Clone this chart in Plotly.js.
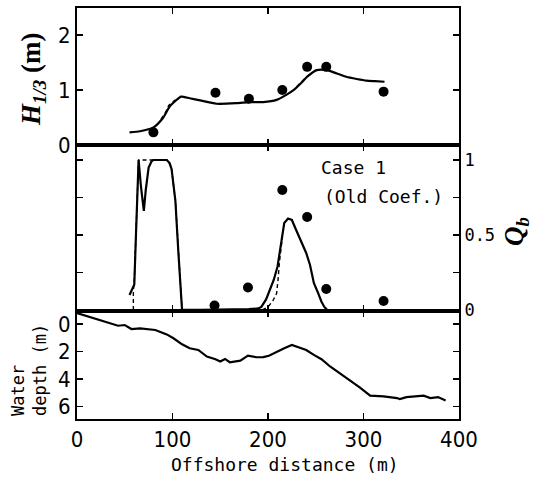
<!DOCTYPE html>
<html>
<head>
<meta charset="utf-8">
<script src="https://cdn.plot.ly/plotly-3.0.1.min.js"></script>
<style>html,body{margin:0;padding:0;background:#fff;}#chart{width:534px;height:477px;}</style>
</head>
<body>
<div id="chart"></div>
<script>
// ---- Top panel: significant wave height H1/3 (m)
var hX = [55, 66, 80, 90, 97, 103, 109, 118, 129, 146, 167, 181, 195, 209, 220, 227, 235, 241, 251, 262, 272, 282, 293, 303, 312, 322];
var hCalc = [0.23, 0.25, 0.32, 0.49, 0.70, 0.80, 0.88, 0.85, 0.81, 0.75, 0.76, 0.78, 0.78, 0.82, 0.92, 1.00, 1.13, 1.24, 1.36, 1.36, 1.30, 1.24, 1.20, 1.17, 1.16, 1.15];
var hDashX = [88, 93, 96, 99, 103, null, 230, 236, 241, 246];
var hDash = [0.47, 0.60, 0.72, 0.77, 0.82, null, 1.06, 1.17, 1.25, 1.31];
var hObsX = [80, 145, 180, 215, 241, 261, 321];
var hObs = [0.23, 0.95, 0.84, 1.00, 1.42, 1.42, 0.97];

// ---- Middle panel: fraction of breaking waves Qb
var qX = [55, 58, 60, 62, 64.5, 67, 70, 72, 75, 78, 80, 94, 97, 99, 101, 103, 106, 108, 110, 130, 160, 180, 190, 193, 198, 202, 206, 210, 214, 217, 221, 225, 229, 234, 240, 244, 248, 252, 256, 259, 262];
var qCalc = [0.10, 0.14, 0.17, 0.55, 1.00, 0.82, 0.66, 0.80, 0.95, 0.99, 1.00, 1.00, 0.98, 0.94, 0.85, 0.73, 0.40, 0.18, 0.00, 0.00, 0.00, 0.005, 0.01, 0.02, 0.07, 0.13, 0.20, 0.29, 0.45, 0.58, 0.61, 0.60, 0.54, 0.47, 0.38, 0.30, 0.18, 0.12, 0.055, 0.02, 0.00];
var qDashX = [59, 59, 60, 62, 64.5, 95, 99, 103, 106, 108, 110, null, 194, 200, 205, 209, 210.5, 212, 215];
var qDash = [0.00, 0.12, 0.20, 0.56, 1.00, 1.00, 0.94, 0.73, 0.40, 0.18, 0.00, null, 0.00, 0.02, 0.06, 0.11, 0.20, 0.32, 0.48];
var qObsX = [144, 179, 215, 241, 261, 321];
var qObs = [0.03, 0.15, 0.80, 0.62, 0.14, 0.06];

// ---- Bottom panel: water depth (m)
var dX = [0, 15, 33, 43, 50, 57, 66, 82, 94, 101, 110, 118, 127, 136, 145, 150, 155, 160, 171, 179, 188, 195, 201, 209, 217, 225, 233, 240, 248, 256, 265, 275, 286, 296, 307, 321, 335, 338, 345, 363, 370, 378, 386];
var depth = [-0.80, -0.46, -0.05, 0.12, 0.07, 0.36, 0.31, 0.43, 0.75, 1.03, 1.47, 1.76, 1.88, 2.36, 2.55, 2.72, 2.53, 2.77, 2.65, 2.29, 2.41, 2.40, 2.30, 2.00, 1.75, 1.52, 1.70, 1.88, 2.24, 2.55, 3.08, 3.56, 4.09, 4.60, 5.20, 5.25, 5.37, 5.44, 5.30, 5.20, 5.37, 5.30, 5.54];

var xTicks = [0, 100, 200, 300, 400];
var hTicks = [0, 1, 2];
var qTicks = [0, 0.25, 0.5, 0.75, 1];
var qTickText = ['0', '', '0.5', '', '1'];
var dTicks = [0, 2, 4, 6];

var tickFont = {family: 'DejaVu Sans Condensed, DejaVu Sans, sans-serif', size: 22, color: '#000'};
var monoFont = {family: 'DejaVu Sans Mono, monospace', size: 18, color: '#000'};

var line = {color: '#000', width: 2.2};
var dash = {color: '#000', width: 1.4, dash: '4px,3px'};
var mk = {color: '#000', size: 10};

var traces = [
  {x: hX, y: hCalc, xaxis: 'x3', yaxis: 'y', mode: 'lines', line: {color: '#000', width: 2.2, shape: 'spline', smoothing: 0.6}},
  {x: hDashX, y: hDash, xaxis: 'x3', yaxis: 'y', mode: 'lines', line: dash, connectgaps: false},
  {x: hObsX, y: hObs, xaxis: 'x3', yaxis: 'y', mode: 'markers', marker: mk},
  {x: qX, y: qCalc, xaxis: 'x2', yaxis: 'y2', mode: 'lines', line: line},
  {x: qDashX, y: qDash, xaxis: 'x2', yaxis: 'y2', mode: 'lines', line: dash, connectgaps: false},
  {x: qObsX, y: qObs, xaxis: 'x2', yaxis: 'y2', mode: 'markers', marker: mk},
  {x: dX, y: depth, xaxis: 'x', yaxis: 'y3', mode: 'lines', line: line}
];

function xax(anchor, labels) {
  return {
    anchor: anchor, domain: [0, 1], range: [0, 400], tickvals: xTicks,
    ticks: 'inside', ticklen: 6, tickwidth: 1.5, tickcolor: '#000',
    showline: true, linewidth: 2, linecolor: '#000', mirror: 'ticks',
    showgrid: false, zeroline: false, showticklabels: labels, tickfont: tickFont
  };
}

var bTop = (419 - 145) / 411, bMid = (419 - 310.7) / 411;

var layout = {
  width: 534, height: 477,
  margin: {l: 77, r: 75, t: 8, b: 58},
  paper_bgcolor: '#fff', plot_bgcolor: '#fff',
  showlegend: false,
  xaxis: xax('y3', true),
  xaxis2: Object.assign(xax('y2', false), {matches: 'x'}),
  xaxis3: Object.assign(xax('y', false), {matches: 'x'}),
  yaxis: {
    domain: [bTop, 1], range: [0, 2.49], tickvals: hTicks,
    ticks: 'inside', ticklen: 6, tickwidth: 1.5, tickcolor: '#000',
    showline: true, linewidth: 2, linecolor: '#000', mirror: 'ticks',
    showgrid: false, zeroline: false, tickfont: tickFont
  },
  yaxis2: {
    domain: [bMid, bTop], range: [-0.005, 1.1], tickvals: qTicks, ticktext: qTickText,
    side: 'right',
    ticks: 'inside', ticklen: 6, tickwidth: 1.5, tickcolor: '#000',
    showline: true, linewidth: 2, linecolor: '#000', mirror: 'ticks',
    showgrid: false, zeroline: false, tickfont: {family: 'DejaVu Sans Mono, monospace', size: 17, color: '#000'}
  },
  yaxis3: {
    domain: [0, bMid], range: [6.89, -0.97], tickvals: dTicks,
    ticks: 'inside', ticklen: 6, tickwidth: 1.5, tickcolor: '#000',
    showline: true, linewidth: 2, linecolor: '#000', mirror: 'ticks',
    showgrid: false, zeroline: false, tickfont: tickFont
  },
  annotations: [
    {xref: 'paper', yref: 'paper', x: (33 - 77) / 382, y: (419 - 80) / 411, xanchor: 'center', yanchor: 'middle',
     textangle: -90, showarrow: false,
     text: '<b><i>H</i></b><sub><b><i>1/3</i></b></sub><b> (m)</b>',
     font: {family: 'Liberation Serif, DejaVu Serif, serif', size: 27, color: '#000'}},
    {xref: 'paper', yref: 'paper', x: (516 - 77) / 382, y: (419 - 232) / 411, xanchor: 'center', yanchor: 'middle',
     textangle: -90, showarrow: false,
     text: '<b><i>Q</i></b><sub><b><i>b</i></b></sub>',
     font: {family: 'Liberation Serif, DejaVu Serif, serif', size: 27, color: '#000'}},
    {xref: 'paper', yref: 'paper', x: (29 - 77) / 382, y: (419 - 418) / 411, xanchor: 'center', yanchor: 'bottom',
     textangle: -90, showarrow: false, align: 'left',
     text: 'Water<br>depth (m)',
     font: {family: 'DejaVu Sans Mono, monospace', size: 17, color: '#000'}},
    {xref: 'paper', yref: 'paper', x: (285 - 77) / 382, y: (419 - 464) / 411, xanchor: 'center', yanchor: 'middle',
     showarrow: false, text: 'Offshore distance (m)', font: monoFont},
    {xref: 'paper', yref: 'paper', x: (319 - 77) / 382, y: (419 - 167) / 411, xanchor: 'left', yanchor: 'middle',
     showarrow: false, text: 'Case 1', font: monoFont},
    {xref: 'paper', yref: 'paper', x: (322 - 77) / 382, y: (419 - 196) / 411, xanchor: 'left', yanchor: 'middle',
     showarrow: false, text: '(Old Coef.)', font: monoFont}
  ]
};

Plotly.newPlot('chart', traces, layout, {staticPlot: true, displayModeBar: false});
</script>
</body>
</html>
